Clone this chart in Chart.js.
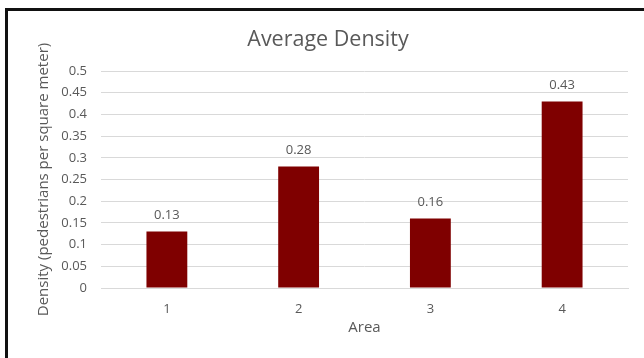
<!DOCTYPE html>
<html>
<head>
<meta charset="utf-8">
<script src="https://cdn.jsdelivr.net/npm/chart.js@4/dist/chart.umd.min.js"></script>
<style>
  html, body { margin: 0; padding: 0; background: #fff; overflow: hidden; }
  #wrap { position: relative; width: 644px; height: 358px; }
  #frame {
    position: absolute; left: 5px; top: 8px; width: 700px; height: 400px;
    border-left: 3px solid #111; border-top: 3px solid #111;
    pointer-events: none;
  }
</style>
</head>
<body>
<div id="wrap">
  <canvas id="c" width="644" height="358"></canvas>
  <div id="frame"></div>
</div>
<script>
const areas = ['1', '2', '3', '4'];
const densityValues = [0.13, 0.28, 0.16, 0.43];
const chartTitle = 'Average Density';
const xTitle = 'Area';
const yTitle = 'Density (pedestrians per square meter)';

const FONT = '"Open Sans", sans-serif';
const GREY = '#595959';

// Writes each bar's value just above it
const valueLabels = {
  id: 'valueLabels',
  afterDatasetsDraw(chart) {
    const ctx = chart.ctx;
    ctx.save();
    ctx.font = '13px ' + FONT;
    ctx.fillStyle = GREY;
    ctx.textAlign = 'center';
    ctx.textBaseline = 'middle';
    chart.data.datasets.forEach((ds, i) => {
      chart.getDatasetMeta(i).data.forEach((bar, j) => {
        ctx.fillText(String(ds.data[j]), bar.x, bar.y - 16);
      });
    });
    ctx.restore();
  }
};

new Chart(document.getElementById('c'), {
  type: 'bar',
  data: {
    labels: areas,
    datasets: [{
      data: densityValues,
      backgroundColor: '#7f0000',
      borderWidth: 0,
      categoryPercentage: 1,
      barPercentage: 0.31
    }]
  },
  options: {
    responsive: false,
    animation: false,
    layout: { padding: { left: 28, right: 16, top: 10, bottom: 0 } },
    plugins: {
      legend: { display: false },
      tooltip: { enabled: false },
      title: {
        display: true,
        text: chartTitle,
        color: GREY,
        font: { family: FONT, size: 21.5, weight: 'normal', lineHeight: 1.2 },
        padding: { top: 17.1, bottom: 18.1 }
      }
    },
    scales: {
      x: {
        grid: { display: false, drawTicks: false },
        border: { color: '#d9d9d9', width: 1 },
        ticks: { color: GREY, font: { family: FONT, size: 13 }, padding: 13 },
        title: {
          display: true, text: xTitle, color: GREY,
          font: { family: FONT, size: 15, lineHeight: 1.2 }, padding: 21
        },
        afterFit(scale) { scale.height = 70; }
      },
      y: {
        min: 0,
        max: 0.5,
        ticks: {
          stepSize: 0.05,
          color: GREY,
          font: { family: FONT, size: 13 },
          padding: 14,
          callback: v => String(Math.round(v * 100) / 100)
        },
        grid: { color: '#d9d9d9', drawTicks: false },
        border: { display: false },
        title: {
          display: true, text: yTitle, color: GREY,
          font: { family: FONT, size: 15, lineHeight: 1.2 }, padding: 7
        },
        afterFit(scale) { scale.width = 73; }
      }
    }
  },
  plugins: [valueLabels]
});
</script>
</body>
</html>
